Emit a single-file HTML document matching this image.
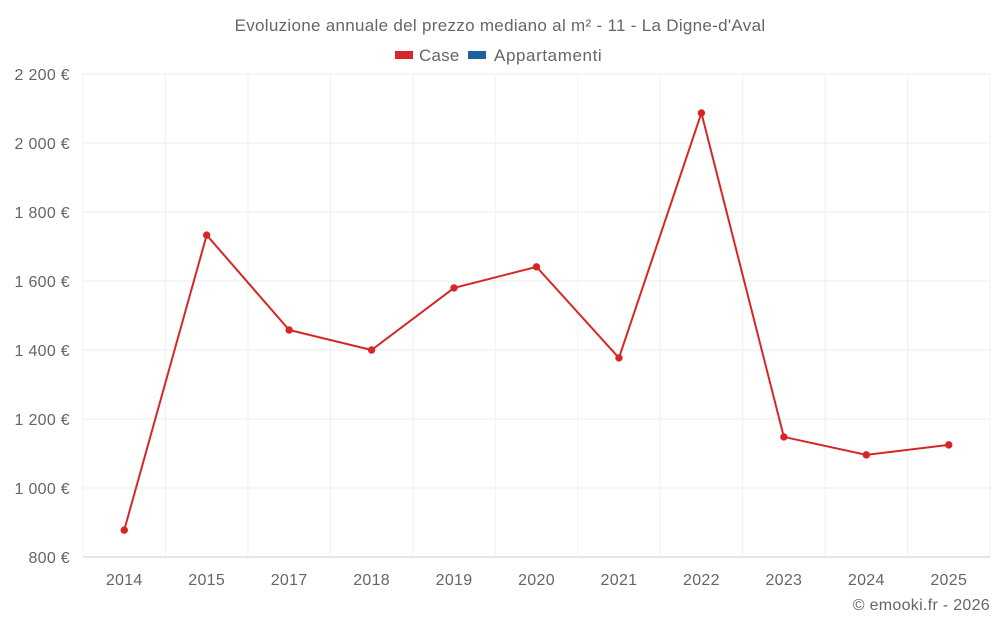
<!DOCTYPE html>
<html><head><meta charset="utf-8"><style>
body{margin:0;background:#fff;font-family:"Liberation Sans",sans-serif;}
svg text{font-family:"Liberation Sans",sans-serif;fill:#666;}
</style></head><body>
<svg id="chart" width="1000" height="625" xmlns="http://www.w3.org/2000/svg">
<text x="500" y="31" text-anchor="middle" font-size="17" letter-spacing="0.3">Evoluzione annuale del prezzo mediano al m² - 11 - La Digne-d'Aval</text>
<g>
<rect x="395" y="51" width="18" height="8" fill="#d62728"/>
<text x="419" y="61" font-size="17" letter-spacing="0.2">Case</text>
<rect x="468" y="51" width="18" height="8" fill="#1f5f9a"/>
<text x="494" y="61" font-size="17" letter-spacing="0.6">Appartamenti</text>
</g>
<g id="grid"></g><g id="axes"></g><g id="series"></g>
<text x="990" y="610" text-anchor="end" font-size="16" letter-spacing="0.3">© emooki.fr - 2026</text>
</svg>
<script>
const categories=["2014","2015","2017","2018","2019","2020","2021","2022","2023","2024","2025"];
const caseValues=[878,1733,1458,1400,1580,1641,1377,2087,1148,1096,1125];
const yTicks=[800,1000,1200,1400,1600,1800,2000,2200];
const yTickLabels=["800 €","1 000 €","1 200 €","1 400 €","1 600 €","1 800 €","2 000 €","2 200 €"];
const NS="http://www.w3.org/2000/svg";
const L=83,R=990,T=74,B=557,yMin=800,yMax=2200;
const step=(R-L)/categories.length;
const x=i=>L+step*(i+0.5);
const y=v=>B-(v-yMin)/(yMax-yMin)*(B-T);
function mk(tag,at,parent){const e=document.createElementNS(NS,tag);for(const k in at)e.setAttribute(k,at[k]);document.getElementById(parent).appendChild(e);return e;}
yTicks.forEach((t,i)=>{
 const g=mk("line",{x1:L,x2:R,y1:y(t),y2:y(t),stroke:i===0?"#ccc":"#ededed"},"grid");
 
 
 const tx=mk("text",{x:70,y:y(t)+6,"text-anchor":"end","font-size":"16","letter-spacing":"0.3"},"axes");
 tx.textContent=yTickLabels[i];
 
 
});
for(let i=0;i<=categories.length;i++){
 const g=mk("line",{x1:L+step*i,x2:L+step*i,y1:T,y2:B,stroke:"#f0f0f0"},"grid");
 
 
}
categories.forEach((c,i)=>{
 const tx=mk("text",{x:x(i),y:585,"text-anchor":"middle","font-size":"16","letter-spacing":"0.3"},"axes");
 tx.textContent=c;
 
 
});
const pl=mk("polyline",{points:caseValues.map((v,i)=>x(i)+","+y(v)).join(" "),fill:"none",stroke:"#d62728","stroke-width":2},"series");


caseValues.forEach((v,i)=>{
 const c=mk("circle",{cx:x(i),cy:y(v),r:3.7,fill:"#d62728"},"series");
 
 
});
</script>
</body></html>
